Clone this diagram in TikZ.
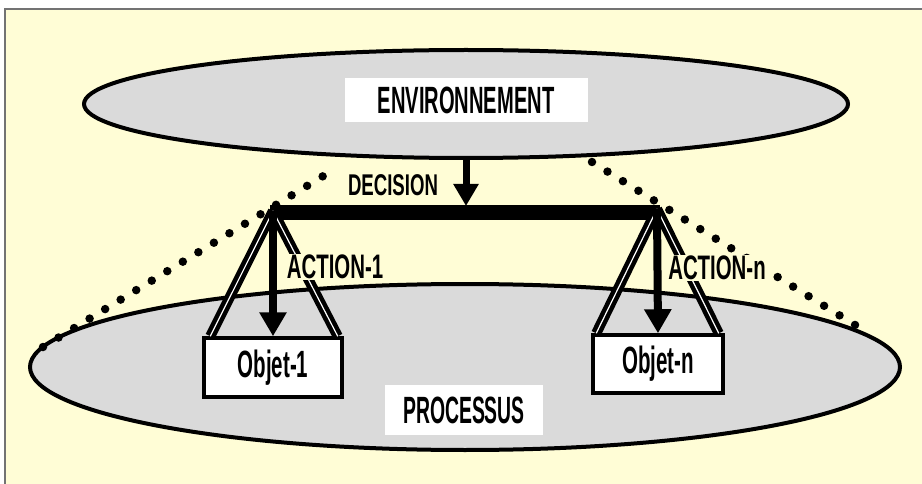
\documentclass[tikz,border=0pt]{standalone}
\usepackage{fontspec}
\setmainfont{Liberation Sans}
\usepackage{graphicx}
\usetikzlibrary{shapes.geometric, arrows.meta, positioning}
\definecolor{paper}{RGB}{255,253,214}
\definecolor{zonegray}{RGB}{218,218,218}
\newcommand{\cond}[2][0.54]{\scalebox{#1}[1]{#2}}
\tikzset{
  zone/.style={ellipse, draw=black, line width=4pt, fill=zonegray, inner sep=0pt},
  title/.style={rectangle, fill=white, inner sep=0pt, font=\fontsize{38}{42}\selectfont\bfseries},
  objet/.style={rectangle, draw=black, line width=3.5pt, fill=white, inner sep=0pt, font=\fontsize{38}{42}\selectfont\bfseries},
  tag/.style={fill=paper, inner sep=1pt, font=\fontsize{34}{38}\selectfont\bfseries},
  leg/.style={draw=black, double=white, double distance=1.2pt, line width=4.5pt},
  arrow/.style={line width=8pt, -{Triangle[width=26pt,length=24pt]}},
  cone/.style={line width=8.5pt, line cap=round, dash pattern=on 0pt off 18.2pt}
}

\begin{document}
\begin{tikzpicture}[x=1pt, y=-1pt]
  \useasboundingbox (0,0) rectangle (922,484);
  \clip (0,0) rectangle (922,484);
  \fill[white] (0,0) rectangle (922,484);
  \filldraw[fill=paper, draw=black!55, line width=1.5pt] (5,9) rectangle (940,500);

  % the two zones
  \node (env) [zone, minimum width=764pt, minimum height=108pt] at (466,104) {};
  \node (proc) [zone, minimum width=870pt, minimum height=166pt] at (465,367) {};
  \node (envtxt) [title, minimum width=243pt, minimum height=44pt] at (466,100) {\cond[0.53]{ENVIRONNEMENT}};
  \node (proctxt) [title, minimum width=158pt, minimum height=50pt] at (464,410) {\cond[0.51]{PROCESSUS}};

  % cone of the decision
  \coordinate (c1a) at (43,347);
  \coordinate (c1b) at (338,167);
  \coordinate (c2a) at (592,162);
  \coordinate (c2b) at (868,333);
  \draw [cone] (c1a) -- (c1b);
  \draw [cone] (c2a) -- (c2b);

  % decision bar
  \coordinate (bar1) at (270,213);
  \coordinate (bar2) at (660,213);
  \coordinate (top1) at (273,211);
  \coordinate (top2) at (657,209);
  \coordinate (dec) at (466,206);
  \draw [line width=15pt] (bar1) -- (bar2);

  % objects
  \node (obj1) [objet, minimum width=138pt, minimum height=59pt] at (273,367.5) {\cond{Objet-1}};
  \node (objn) [objet, minimum width=130pt, minimum height=58pt] at (658,364) {\cond{Objet-n}};

  \draw [leg] (top1) -- ([xshift=8pt]obj1.north west);
  \draw [leg] (top1) -- ([xshift=-6pt]obj1.north east);
  \draw [leg] (top2) -- ([xshift=5pt]objn.north west);
  \draw [leg] (top2) -- ([xshift=-6pt]objn.north east);

  \draw [arrow] (top1) -- (obj1.north);
  \draw [arrow] (top2) -- (objn.north);
  \draw [arrow, line width=7pt, -{Triangle[width=24pt,length=22pt]}] (env.south) -- (dec);

  \node (dectxt) [tag, fill=none, font=\fontsize{30}{34}\selectfont\bfseries] at (393,185) {\cond[0.62]{DECISION}};
  \node (act1) [tag] at (335,267) {\cond[0.6]{ACTION-1}};
  \node (actn) [tag] at (717,268) {\cond[0.6]{ACTION-n}};

\end{tikzpicture}
\end{document}
